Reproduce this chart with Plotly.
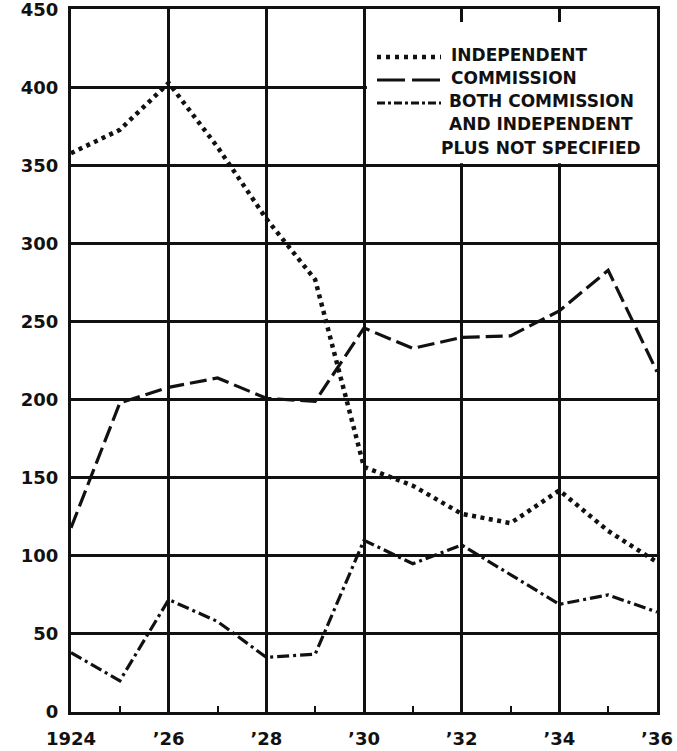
import plotly.graph_objects as go

years = list(range(1924, 1937))
independent = [358, 373, 403, 362, 316, 277, 157, 145, 127, 121, 142, 116, 96]
commission = [118, 198, 208, 214, 201, 199, 246, 233, 240, 241, 257, 283, 218]
both = [38, 20, 72, 58, 35, 37, 110, 95, 107, 88, 69, 75, 64]

x_labels = {"1924": "1924", "1926": "’26", "1928": "’28", "1930": "’30",
            "1932": "’32", "1934": "’34", "1936": "’36"}
y_ticks = [0, 50, 100, 150, 200, 250, 300, 350, 400, 450]

legend_lines = ["INDEPENDENT", "COMMISSION", "BOTH COMMISSION",
                "AND INDEPENDENT", "PLUS NOT SPECIFIED"]

INK = "#111111"
FONT = dict(family="DejaVu Sans", weight="bold", color=INK)

W, H = 677, 751
ML, MR, MT, MB = 71, 20, 9, 39
PW, PH = W - ML - MR, H - MT - MB


def px(xpix):
    return (xpix - ML) / PW


def py(ypix):
    return (H - MB - ypix) / PH


styles = [dict(color=INK, width=4.5, dash="4px,4.5px"),
          dict(color=INK, width=3.2, dash="17px,6px"),
          dict(color=INK, width=3.2, dash="12px,4px,3px,4px")]
names = ["INDEPENDENT", "COMMISSION", "BOTH COMMISSION AND INDEPENDENT PLUS NOT SPECIFIED"]

fig = go.Figure()
for name, vals, st in zip(names, [independent, commission, both], styles):
    fig.add_trace(go.Scatter(x=years, y=vals, mode="lines", name=name, line=st,
                             showlegend=False))

# white legend panel covering gridlines in the upper-right corner
fig.add_shape(type="rect", xref="x", yref="y", x0=1930.06, x1=1936, y0=351.5, y1=442,
              fillcolor="white", line=dict(width=0), layer="between")

# legend samples
sample_styles = [dict(color=INK, width=4.5, dash="4px,5px"),
                 dict(color=INK, width=3.2, dash="28px,7px"),
                 dict(color=INK, width=3.2, dash="8px,3px,3px,3px")]
for yy, st in zip([57, 80, 103], sample_styles):
    fig.add_shape(type="line", xref="paper", yref="paper", x0=px(377), x1=px(441),
                  y0=py(yy), y1=py(yy), line=st, layer="above")

# legend texts
fig.add_annotation(text=legend_lines[0], xref="paper", yref="paper", x=px(449), y=py(55),
                   xanchor="left", yanchor="middle", showarrow=False, font=dict(**FONT, size=17))
fig.add_annotation(text=legend_lines[1], xref="paper", yref="paper", x=px(449), y=py(78),
                   xanchor="left", yanchor="middle", showarrow=False, font=dict(**FONT, size=17))
for txt, yy in zip(legend_lines[2:], [101, 124, 148]):
    fig.add_annotation(text=txt, xref="paper", yref="paper", x=px(541), y=py(yy),
                       xanchor="center", yanchor="middle", showarrow=False,
                       font=dict(**FONT, size=17))

fig.update_layout(
    width=W, height=H,
    margin=dict(l=ML, r=MR, t=MT, b=MB),
    paper_bgcolor="white", plot_bgcolor="white",
    font=dict(**FONT, size=18),
    showlegend=False,
)
fig.update_xaxes(
    range=[1924, 1936], tickmode="linear", tick0=1924, dtick=2, tickformat="d",
    labelalias=x_labels, showgrid=True, gridcolor=INK, gridwidth=2.5,
    showline=True, linecolor=INK, linewidth=3, mirror=True, zeroline=False,
    ticks="", ticklabelstandoff=8, tickfont=dict(**FONT, size=18),
    automargin=False, ticklabeloverflow="allow",
    minor=dict(dtick=1, tick0=1924, ticks="inside", ticklen=6, tickwidth=2,
               tickcolor=INK, showgrid=False),
)
fig.update_yaxes(
    range=[0, 450.4], tickmode="array", tickvals=y_ticks,
    showgrid=True, gridcolor=INK, gridwidth=2.5,
    showline=True, linecolor=INK, linewidth=3, mirror=True, zeroline=False,
    ticks="", ticklabelstandoff=6, tickfont=dict(**FONT, size=18),
    automargin=False, ticklabeloverflow="allow",
)

fig.write_html("out.html", config={"displayModeBar": False},
               post_script="document.body.style.margin='0';document.body.style.overflow='hidden';")
